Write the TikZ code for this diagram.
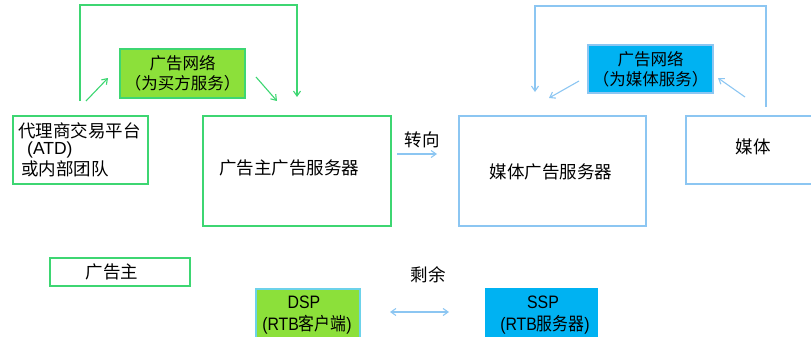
\documentclass[tikz,border=0pt]{standalone}
\usepackage{fontspec}
\setmainfont{Liberation Sans}
\newfontfamily\cjk{Noto Sans CJK SC}
\newfontfamily\cjkn[FakeStretch=0.88]{Noto Sans CJK SC}
\newfontfamily\latn[FakeStretch=0.88]{Liberation Sans}
\usetikzlibrary{arrows.meta}
\definecolor{gline}{HTML}{3DD672}
\definecolor{gfill}{HTML}{8CE03A}
\definecolor{bline}{HTML}{8CC6F2}
\definecolor{bfill}{HTML}{00B2F2}
\definecolor{cline}{HTML}{6CD2EA}
\tikzset{
  gbox/.style={draw=gline, line width=1.3pt, inner sep=0pt},
  bbox/.style={draw=bline, line width=1.3pt, inner sep=0pt},
  garr/.style={draw=gline, line width=1.1pt, -{Straight Barb[length=5pt,width=7pt]}},
  barr/.style={draw=bline, line width=1.1pt, -{Straight Barb[length=5pt,width=7pt]}},
  dbarr/.style={draw=bline, line width=1.1pt, {Straight Barb[length=5pt,width=7pt]}-{Straight Barb[length=5pt,width=7pt]}},
  txt/.style={inner sep=0pt, font=\cjk\fontsize{17.5}{19}\selectfont},
  stxt/.style={inner sep=0pt, font=\cjk\fontsize{16.5}{18}\selectfont},
}
\begin{document}
\begin{tikzpicture}[x=1pt,y=-1pt]
\useasboundingbox (0,0) rectangle (811,337);
% boxes
\node[gbox, fill=gfill, minimum width=125pt, minimum height=49pt, align=center, stxt] (buynet) at (182.5,73.5) {广告网络\\[2pt]（为买方服务）};
\node[gbox, minimum width=135pt, minimum height=68pt] (atd) at (80.5,150) {};
\node[gbox, minimum width=188pt, minimum height=110pt] (advsrv) at (297,171) {};
\node[bbox, minimum width=187pt, minimum height=110pt] (pubsrv) at (552.5,171) {};
\node[bbox, minimum width=134pt, minimum height=68pt] (media) at (753,150) {};
\node[bbox, fill=bfill, minimum width=125pt, minimum height=48pt, align=center, stxt] (sellnet) at (650.5,69) {广告网络\\[2pt]（为媒体服务）};
\node[gbox, minimum width=140pt, minimum height=28pt] (adv) at (120,272) {};
\node[draw=cline, line width=1.1pt, fill=gfill, minimum width=104pt, minimum height=56pt] (dsp) at (308,317) {};
\node[draw=bfill, line width=1.1pt, fill=bfill, minimum width=111pt, minimum height=56pt] (ssp) at (541.5,317) {};
% texts
\node[txt, anchor=west] (atd1) at (18,131) {代理商交易平台};
\node[anchor=west, inner sep=0pt, font=\fontsize{17.5}{19}\selectfont] (atd2) at (27,149.5) {(ATD)};
\node[txt, anchor=west] (atd3) at (21,169) {或内部团队};
\node[txt] (advsrvt) at (289,168) {广告主广告服务器};
\node[txt] (pubsrvt) at (551,172) {媒体广告服务器};
\node[txt] (mediat) at (753,147) {媒体};
\node[txt] (advt) at (112,272) {广告主};
\node[txt] (zx) at (422,140) {转向};
\node[txt] (sy) at (428,275) {剩余};
\node[inner sep=0pt, font=\latn\fontsize{18}{20}\selectfont] (dsp1) at (304,302) {DSP};
\node[inner sep=0pt, font=\fontsize{18}{20}\selectfont] (dsp2) at (307,325) {\latn(RTB\cjkn 客户端\latn)};
\node[inner sep=0pt, font=\latn\fontsize{18}{20}\selectfont] (ssp1) at (543,302) {SSP};
\node[inner sep=0pt, font=\fontsize{18}{20}\selectfont] (ssp2) at (545,325) {\latn(RTB\cjkn 服务器\latn)};
% green connectors
\coordinate (g0) at (80,101);
\coordinate (g1) at (80,5);
\coordinate (g2) at (297,97);
\draw[garr] (g0) -- (g1) -| (g2);
\coordinate (ga) at (86,101);
\coordinate (gb) at (108,78);
\draw[garr] (ga) -- (gb);
\coordinate (gc) at (256,77);
\coordinate (gd) at (277,101);
\draw[garr] (gc) -- (gd);
% blue connectors
\coordinate (b0) at (766,107);
\coordinate (b1) at (766,6);
\coordinate (b2) at (535,92);
\draw[barr] (b0) -- (b1) -| (b2);
\coordinate (ba) at (579,81);
\coordinate (bb) at (549,98);
\draw[barr] (ba) -- (bb);
\coordinate (bc) at (745,97);
\coordinate (bd) at (718,78);
\draw[barr] (bc) -- (bd);
\coordinate (z0) at (397,154);
\coordinate (z1) at (437,154);
\draw[barr] (z0) -- (z1);
\coordinate (s0) at (390,312);
\coordinate (s1) at (449,312);
\draw[dbarr] (s0) -- (s1);
\end{tikzpicture}
\end{document}
